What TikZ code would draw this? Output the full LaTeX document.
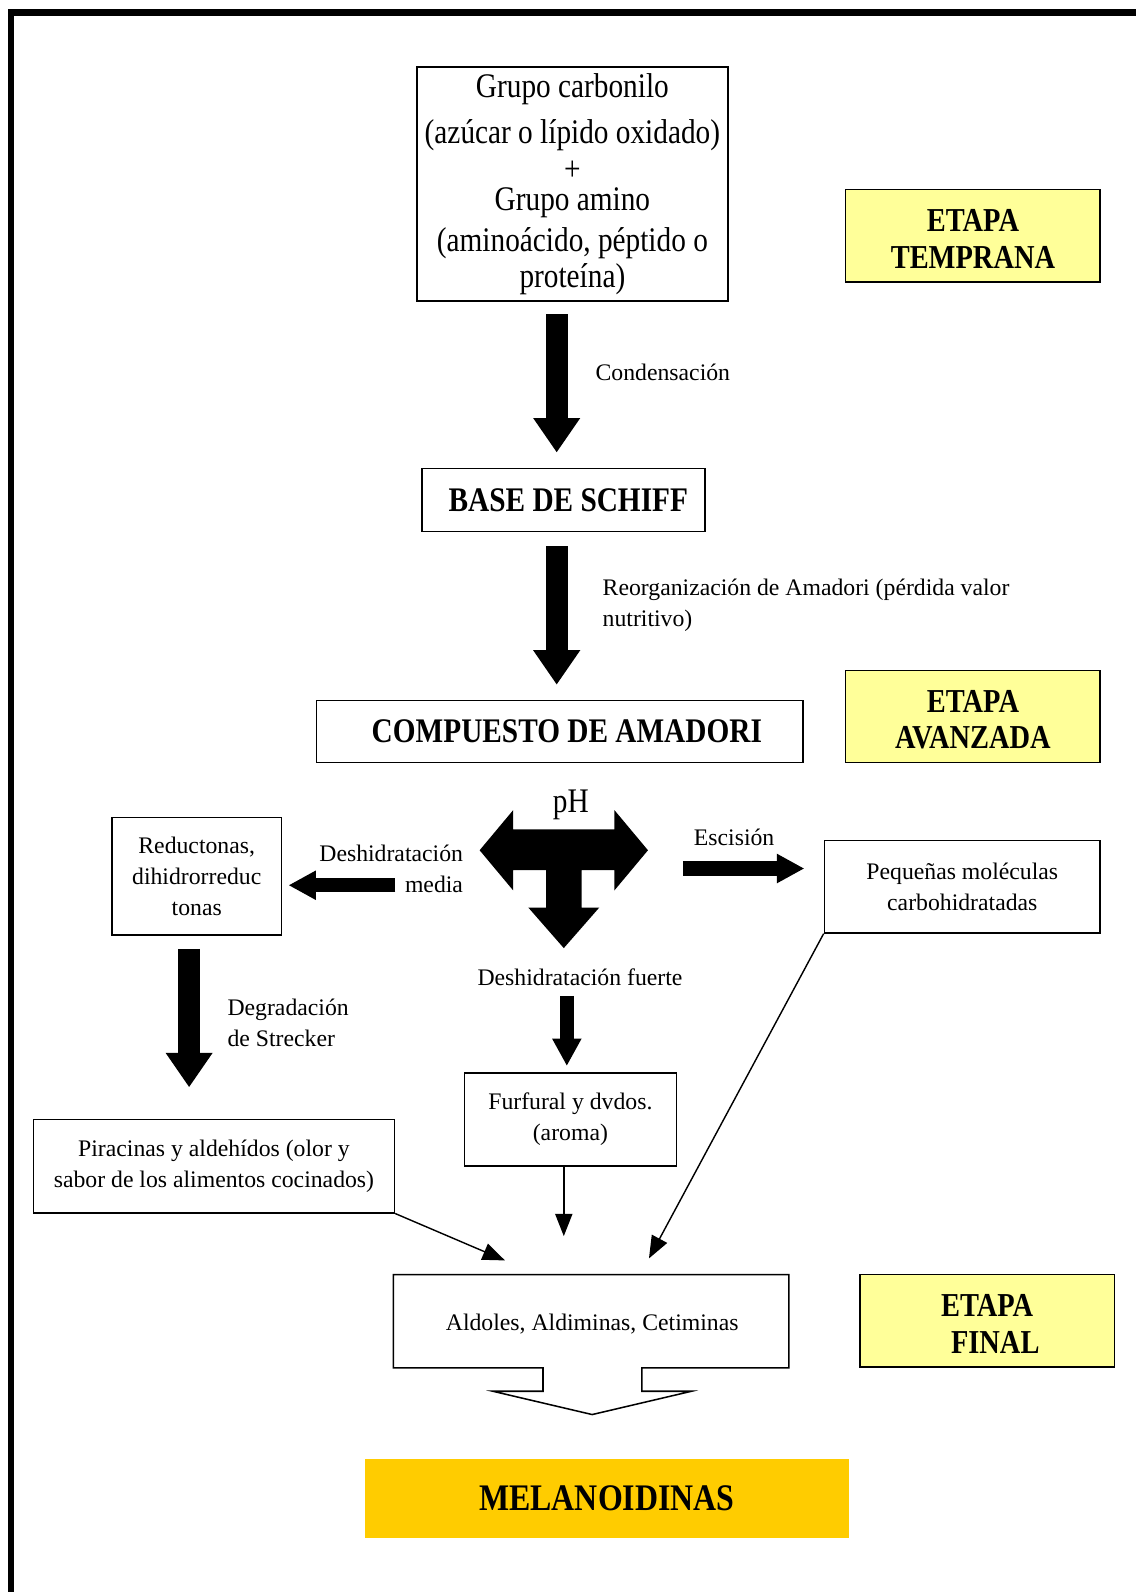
\documentclass[tikz,border=0pt]{standalone}
\usepackage{fontspec}
\setmainfont{Liberation Serif}
\newfontfamily\narrowfont{Liberation Serif}[FakeStretch=0.85]
\usetikzlibrary{arrows.meta}
\definecolor{etapayellow}{HTML}{FFFF99}
\definecolor{melanorange}{HTML}{FFCC00}
\begin{document}
\begin{tikzpicture}[x = 0.5pt, y = -0.5pt,
	box/.style = {draw, line width = 0.75pt, inner sep = 0pt, align = center},
	etapa/.style = {box, fill = etapayellow, font = \narrowfont\bfseries\fontsize{16.5}{18}\selectfont},
	smalltext/.style = {inner sep = 0pt, font = \fontsize{11.7}{15.3}\selectfont},
	bigtext/.style = {font = \narrowfont\fontsize{17}{18}\selectfont},
	bigarrow/.style = {line width = 11pt, -{Triangle[length = 17pt, width = 22pt]}},
	midarrow/.style = {line width = 7pt, -{Triangle[length = 13.5pt, width = 13.5pt]}},
	thinarrow/.style = {line width = 0.7pt, -{Triangle[length = 11pt, width = 8.5pt]}}]
		\useasboundingbox (0, 0) rectangle (1120, 1570);
		% frame
		\draw[line width = 3pt] (1130, 12.3) -- (10.8, 12.3) -- (10.8, 1580);
		% early stage
		\node[box, bigtext, minimum width = 153.5pt, minimum height = 115.5pt] (carbonilo) at (564.5, 181.5)
			{Grupo carbonilo\\[5pt](azúcar o lípido oxidado)\\[0pt]+\\[-3pt]Grupo amino\\[2pt](aminoácido, péptido o\\proteína)};
		\node[box, font = \narrowfont\bfseries\fontsize{17}{18}\selectfont, minimum width = 139.5pt, minimum height = 31pt] (schiff) at (555.5, 493) {\hspace*{5pt}BASE DE SCHIFF};
		\node[box, font = \narrowfont\bfseries\fontsize{17}{19}\selectfont, minimum width = 240pt, minimum height = 30.5pt] (amadori) at (552, 721.5) {\hspace*{7pt}COMPUESTO DE AMADORI};
		\node[etapa, minimum width = 125.5pt, minimum height = 45.5pt] (temprana) at (959.5, 232.5) {\rule{0pt}{14pt}ETAPA\\TEMPRANA};
		\node[etapa, minimum width = 125.5pt, minimum height = 45.5pt] (avanzada) at (959.5, 706.5) {\rule{0pt}{14pt}ETAPA\\AVANZADA};
		\coordinate (axis) at (549, 0);
		\draw[bigarrow, shorten <= 6pt, shorten >= 7.5pt] (carbonilo.south -| axis) -- (schiff.north -| axis);
		\draw[bigarrow, shorten <= 7pt, shorten >= 7.5pt] (schiff.south -| axis) -- (amadori.north -| axis);
		\node[smalltext, anchor = west] (condensacion) at (587, 367) {Condensación};
		\node[smalltext, anchor = west, align = left] (reorganizacion) at (594, 597) {Reorganización de Amadori (pérdida valor\\nutritivo)};
		% the pH arrow
		\fill (473, 838.5) -- (506, 799) -- (506, 818) -- (606, 818) -- (606, 799) -- (639, 838.5)
			-- (606, 878) -- (606, 858) -- (573.5, 858) -- (573.5, 895) -- (591, 895) -- (556, 935)
			-- (521, 895) -- (538.5, 895) -- (538.5, 858) -- (506, 858) -- (506, 878) -- cycle;
		\node[bigtext, inner sep = 0pt] (ph) at (563, 794) {pH};
		% advanced stage
		\node[box, smalltext, minimum width = 83.75pt, minimum height = 58pt] (reductonas) at (194, 864) {Reductonas,\\dihidrorreduc\\tonas};
		\node[box, smalltext, minimum width = 136pt, minimum height = 45.5pt] (pequenas) at (949, 874.5) {Pequeñas moléculas\\carbohidratadas};
		\node[smalltext, anchor = east, align = right] (media) at (457, 857) {Deshidratación\\media};
		\node[smalltext] (escision) at (724, 826) {Escisión};
		\node[smalltext] (fuerte) at (572, 964) {Deshidratación fuerte};
		\coordinate (media-start) at (390, 873);
		\coordinate (escis-start) at (673.5, 856.5);
		\coordinate (fuerte-start) at (559, 982);
		\draw[midarrow, shorten >= 3pt] (media-start) -- (media-start -| reductonas.east);
		\draw[midarrow, shorten >= 9.5pt] (escis-start) -- (escis-start -| pequenas.west);
		\node[box, smalltext, minimum width = 178pt, minimum height = 46pt] (piracinas) at (211, 1150) {Piracinas y aldehídos (olor y\\sabor de los alimentos cocinados)};
		\node[box, smalltext, minimum width = 104.5pt, minimum height = 46pt] (furfural) at (562.5, 1104) {Furfural y dvdos.\\(aroma)};
		\draw[midarrow, shorten >= 3pt] (fuerte-start) -- (fuerte-start |- furfural.north);
		\coordinate (strecker-axis) at (186.5, 0);
		\draw[bigarrow, shorten <= 6.5pt, shorten >= 15.5pt] (reductonas.south -| strecker-axis) -- (piracinas.north -| strecker-axis);
		\node[smalltext, anchor = west, align = left] (strecker) at (224, 1009) {Degradación\\de Strecker};
		% final stage
		\draw[line width = 0.75pt] (535.5, 1349) -- (388, 1349) -- (388, 1257) -- (778, 1257)
			-- (778, 1349) -- (633, 1349) -- (633, 1372) -- (682, 1372) -- (584, 1395)
			-- (486, 1372) -- (535.5, 1372) -- cycle;
		\node[smalltext] (aldoles) at (584, 1306) {Aldoles, Aldiminas, Cetiminas};
		\coordinate (pira-end) at (498, 1243);
		\coordinate (peq-end) at (640, 1241);
		\coordinate (furf-end) at (556, 1219);
		\draw[thinarrow] (piracinas.south east) -- (pira-end);
		\draw[thinarrow] (pequenas.south west) -- (peq-end);
		\draw[thinarrow] (furf-end |- furfural.south) -- (furf-end);
		\node[etapa, minimum width = 125.5pt, minimum height = 45.5pt] (final) at (973.5, 1302.5) {\rule{0pt}{14pt}ETAPA\\\hspace*{8pt}FINAL};
		\node[fill = melanorange, inner sep = 0pt, minimum width = 238.5pt, minimum height = 39pt,
			font = \narrowfont\bfseries\fontsize{18.5}{20}\selectfont] (melanoidinas) at (598.5, 1478) {MELANOIDINAS};
	\end{tikzpicture}
\end{document}
